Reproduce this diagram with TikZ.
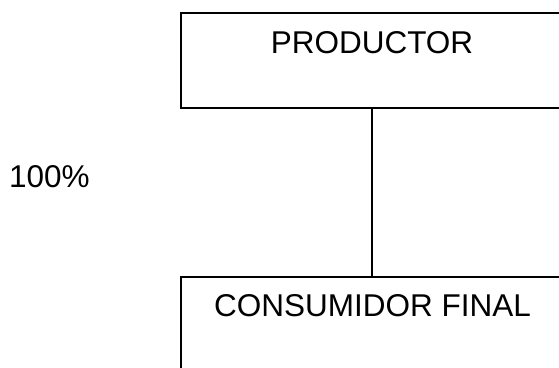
\documentclass[tikz,border=0pt]{standalone}
\usepackage{fontspec}
\setmainfont{Liberation Sans}
\begin{document}
\begin{tikzpicture}[x=1pt,y=-1pt,
  box/.style={draw=black,line width=1.8pt,rectangle,inner sep=0pt,anchor=north west},
  label/.style={inner sep=0pt,font=\fontsize{31.5}{36}\selectfont},
  link/.style={draw=black,line width=1.8pt}]
  \clip (0,0) rectangle (559,367);
  \useasboundingbox (0,0) rectangle (559,367);
  % boxes run off the right and bottom edges of the sheet
  \node[box,minimum width=420pt,minimum height=95pt] (prod) at (180,12) {};
  \node[box,minimum width=420pt,minimum height=140pt] (cons) at (180,276) {};
  % texts
  \node[label,anchor=base] (prodtext) at (372,53) {PRODUCTOR};
  \node[label,anchor=base] (constext) at (372.5,316) {CONSUMIDOR FINAL};
  \node[label,anchor=base west] (pct) at (9,187) {100\%};
  % connector between the two boxes
  \draw[link] (prodtext |- prod.south) -- (prodtext |- cons.north);
\end{tikzpicture}
\end{document}
